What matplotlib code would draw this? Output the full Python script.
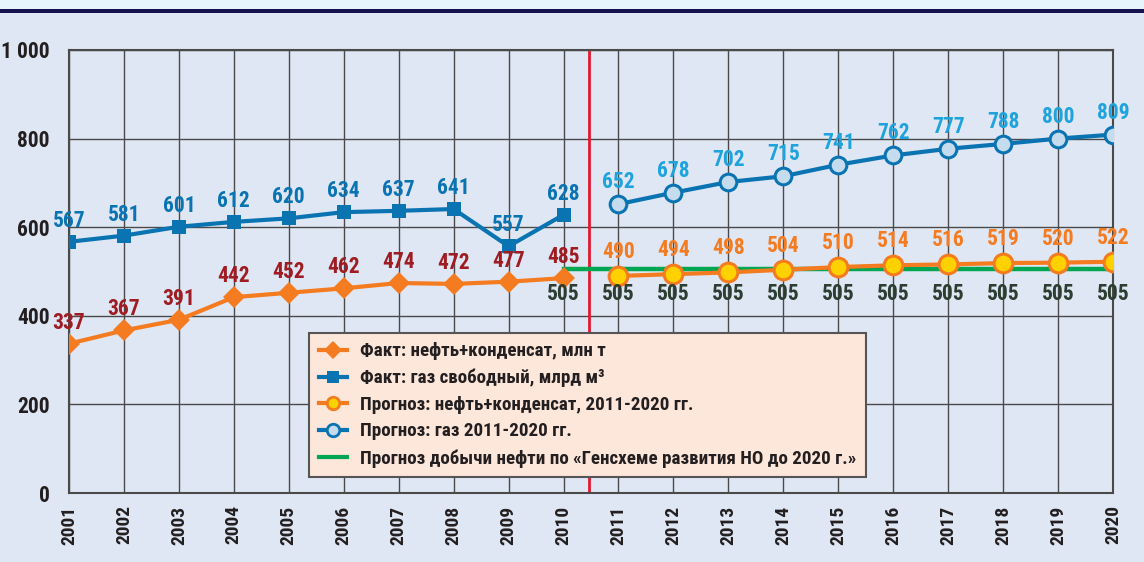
import matplotlib
matplotlib.use("Agg")
import matplotlib.pyplot as plt
from matplotlib.lines import Line2D
from matplotlib.patches import Rectangle

plt.rcParams['font.family'] = ['Roboto Condensed', 'DejaVu Sans']
plt.rcParams['font.weight'] = 'bold'

# data
fact_years = list(range(2001, 2011))
fact_oil = [337, 367, 391, 442, 452, 462, 474, 472, 477, 485]
fact_gas = [567, 581, 601, 612, 620, 634, 637, 641, 557, 628]

fc_years = list(range(2011, 2021))
fc_oil = [490, 494, 498, 504, 510, 514, 516, 519, 520, 522]
fc_gas = [652, 678, 702, 715, 741, 762, 777, 788, 800, 809]

gen_years = list(range(2010, 2021))
gen_oil = [505] * len(gen_years)

year_labels = [str(y) for y in range(2001, 2021)]
y_ticks = [0, 200, 400, 600, 800, 1000]
y_tick_labels = ['0', '200', '400', '600', '800', '1 000']

BG = '#E0E7F4'
ORANGE = '#F47B20'
DARK_RED = '#9E1C22'
BLUE = '#0A74B3'
LIGHT_BLUE_TXT = '#1FA3DD'
GREEN = '#00A651'
DARK_GREEN_TXT = '#2C3D31'
TXT = '#231F20'

fig = plt.figure(figsize=(11.44, 5.62), dpi=100, facecolor=BG)
# top strip and navy rule
fig.patches.append(Rectangle((0, 1 - 9 / 562), 1, 9 / 562, transform=fig.transFigure,
                             facecolor='#E6F5FB', edgecolor='none', zorder=0))
fig.patches.append(Rectangle((0, 1 - 13 / 562), 1, 4 / 562, transform=fig.transFigure,
                             facecolor='#15124F', edgecolor='none', zorder=0))

ax = fig.add_axes([69 / 1144, 69 / 562, 1044 / 1144, 443 / 562])
ax.set_facecolor(BG)
ax.set_xlim(2001, 2020)
ax.set_ylim(0, 1000)

ax.set_xticks(range(2001, 2021))
ax.set_xticklabels(year_labels, rotation=90, fontsize=14, color=TXT, fontweight='bold')
ax.set_yticks(y_ticks)
ax.set_yticklabels(y_tick_labels, fontsize=15.5, color=TXT, fontweight='bold')
ax.tick_params(length=0)
ax.tick_params(axis='x', pad=9)
ax.tick_params(axis='y', pad=14)
ax.grid(True, color='#4A4A4A', linewidth=1.0)
ax.set_axisbelow(True)
for s in ax.spines.values():
    s.set_color('#4A4A4A')
    s.set_linewidth(1.5)

# red divider between fact and forecast
ax.axvline(2010.47, color='#E3182D', linewidth=2, zorder=2)

# green general-scheme line
ax.plot(gen_years, gen_oil, color=GREEN, linewidth=3.2, zorder=3)

# facts
ax.plot(fact_years, fact_oil, color=ORANGE, linewidth=3, marker='D', markersize=11,
        markeredgewidth=0, zorder=4)
ax.plot(fact_years, fact_gas, color=BLUE, linewidth=3, marker='s', markersize=10.5,
        markeredgewidth=0, zorder=4)

# forecasts
ax.plot(fc_years, fc_oil, color=ORANGE, linewidth=3, marker='o', markersize=13.5,
        markerfacecolor='#FFD100', markeredgecolor=ORANGE, markeredgewidth=2.2, zorder=5)
ax.plot(fc_years, fc_gas, color=BLUE, linewidth=3, marker='o', markersize=12,
        markerfacecolor='#C5DCEF', markeredgecolor=BLUE, markeredgewidth=2.2, zorder=5)

lab_kw = dict(textcoords='offset pixels', ha='center', va='center', fontsize=15.5,
              fontweight='bold', zorder=6)
for x, v in zip(fact_years, fact_oil):
    ax.annotate(str(v), (x, v), xytext=(0, 21), color=DARK_RED, **lab_kw)
for x, v in zip(fact_years, fact_gas):
    ax.annotate(str(v), (x, v), xytext=(0, 21), color=BLUE, **lab_kw)
for x, v in zip(fc_years, fc_oil):
    ax.annotate(str(v), (x, v), xytext=(0, 24), color=ORANGE, **lab_kw)
for x, v in zip(fc_years, fc_gas):
    ax.annotate(str(v), (x, v), xytext=(0, 22), color=LIGHT_BLUE_TXT, **lab_kw)
for x, v in zip(gen_years, gen_oil):
    ax.annotate(str(v), (x, v), xytext=(0, -25), color=DARK_GREEN_TXT, **lab_kw)

handles = [
    Line2D([], [], color=ORANGE, linewidth=3, marker='D', markersize=9, markeredgewidth=0),
    Line2D([], [], color=BLUE, linewidth=3, marker='s', markersize=8, markeredgewidth=0),
    Line2D([], [], color=ORANGE, linewidth=3, marker='o', markersize=9,
           markerfacecolor='#FFD100', markeredgecolor=ORANGE, markeredgewidth=2),
    Line2D([], [], color=BLUE, linewidth=3, marker='o', markersize=9,
           markerfacecolor='#C5DCEF', markeredgecolor=BLUE, markeredgewidth=2),
    Line2D([], [], color=GREEN, linewidth=3),
]
labels = [
    'Факт: нефть+конденсат, млн т',
    'Факт: газ свободный, млрд м³',
    'Прогноз: нефть+конденсат, 2011-2020 гг.',
    'Прогноз: газ 2011-2020 гг.',
    'Прогноз добычи нефти по «Генсхеме развития НО до 2020 г.»',
]
leg = ax.legend(handles, labels, loc='lower left', bbox_to_anchor=(0.23, 0.036),
                fontsize=13.7, frameon=True, fancybox=False, facecolor='#FDE6DA',
                edgecolor='#555555', framealpha=1, handlelength=1.5, handletextpad=0.7,
                labelspacing=0.45, borderpad=0.5, borderaxespad=0)
leg.get_frame().set_linewidth(1.5)
leg.set_zorder(7)
for t in leg.get_texts():
    t.set_color(TXT)

fig.savefig('out.png', dpi=100, facecolor=BG)
